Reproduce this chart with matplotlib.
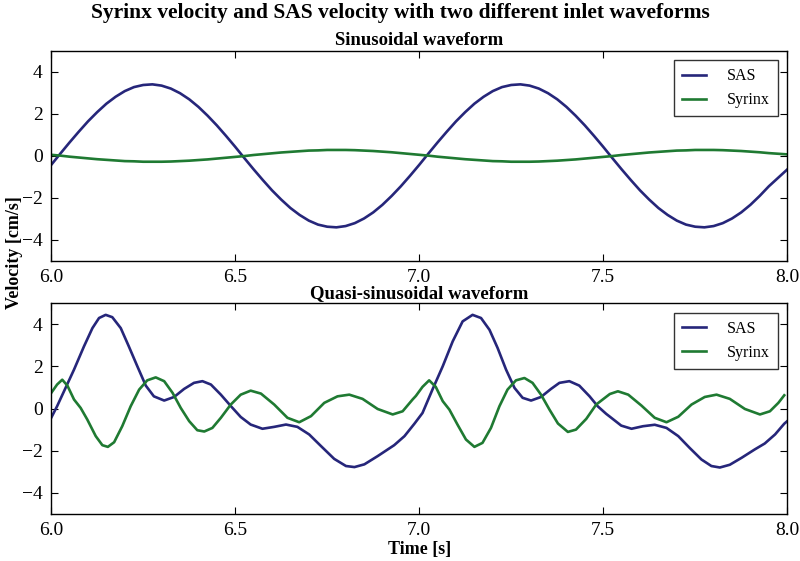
import matplotlib
matplotlib.use("Agg")
import matplotlib.pyplot as plt

# ---- Sinusoidal waveform (read every 0.025 s) ----
t_sin = [6.000 + 0.025 * i for i in range(81)]
sas_sin = [-0.43, 0.11, 0.64, 1.15, 1.64, 2.08, 2.48, 2.81, 3.08, 3.27,
           3.37, 3.40, 3.34, 3.20, 2.98, 2.69, 2.33, 1.91, 1.45, 0.95,
           0.43, -0.11, -0.64, -1.15, -1.64, -2.08, -2.48, -2.81, -3.08, -3.27,
           -3.37, -3.40, -3.34, -3.20, -2.98, -2.69, -2.33, -1.91, -1.45, -0.95,
           -0.43, 0.11, 0.64, 1.15, 1.64, 2.08, 2.48, 2.81, 3.08, 3.27,
           3.37, 3.40, 3.34, 3.20, 2.98, 2.69, 2.33, 1.91, 1.45, 0.95,
           0.43, -0.11, -0.64, -1.15, -1.64, -2.08, -2.48, -2.81, -3.08, -3.27,
           -3.37, -3.40, -3.34, -3.20, -2.98, -2.69, -2.33, -1.91, -1.45, -1.05,
           -0.65]
syr_sin = [0.05, 0.01, -0.04, -0.08, -0.12, -0.16, -0.19, -0.22, -0.25, -0.26,
           -0.28, -0.28, -0.28, -0.27, -0.25, -0.23, -0.20, -0.17, -0.13, -0.09,
           -0.05, -0.01, 0.04, 0.08, 0.12, 0.16, 0.19, 0.22, 0.25, 0.26,
           0.28, 0.28, 0.28, 0.27, 0.25, 0.23, 0.20, 0.17, 0.13, 0.09,
           0.05, 0.01, -0.04, -0.08, -0.12, -0.16, -0.19, -0.22, -0.25, -0.26,
           -0.28, -0.28, -0.28, -0.27, -0.25, -0.23, -0.20, -0.17, -0.13, -0.09,
           -0.05, -0.01, 0.04, 0.08, 0.12, 0.16, 0.19, 0.22, 0.25, 0.26,
           0.28, 0.28, 0.28, 0.27, 0.25, 0.23, 0.20, 0.17, 0.13, 0.10,
           0.07]

# ---- Quasi-sinusoidal waveform ----
t_sas_q = [6.000, 6.016, 6.039, 6.062, 6.089, 6.112, 6.130, 6.148, 6.166, 6.189,
           6.211, 6.234, 6.257, 6.279, 6.307, 6.334, 6.361, 6.388, 6.411, 6.434,
           6.461, 6.488, 6.515, 6.542, 6.574, 6.606, 6.638, 6.669, 6.701, 6.733,
           6.769, 6.801, 6.824, 6.851, 6.887, 6.932, 6.960, 6.987, 7.009, 7.036,
           7.064, 7.091, 7.118, 7.145, 7.168, 7.191, 7.213, 7.236, 7.259, 7.281,
           7.304, 7.331, 7.358, 7.381, 7.408, 7.435, 7.463, 7.485, 7.508, 7.522,
           7.549, 7.577, 7.608, 7.640, 7.672, 7.704, 7.735, 7.767, 7.794, 7.817,
           7.844, 7.876, 7.912, 7.939, 7.967, 7.992, 8.000]
sas_q = [-0.44, 0.11, 0.98, 1.85, 2.95, 3.82, 4.30, 4.45, 4.34, 3.82,
         2.95, 2.01, 1.09, 0.58, 0.38, 0.55, 0.93, 1.22, 1.30, 1.14,
         0.66, 0.12, -0.40, -0.76, -0.96, -0.87, -0.76, -0.87, -1.23, -1.78,
         -2.39, -2.73, -2.78, -2.65, -2.26, -1.74, -1.31, -0.72, -0.21, 0.90,
         2.01, 3.19, 4.14, 4.45, 4.30, 3.74, 2.88, 1.85, 0.98, 0.51,
         0.38, 0.55, 0.93, 1.22, 1.30, 1.09, 0.58, 0.11, -0.25, -0.44,
         -0.81, -0.96, -0.84, -0.77, -0.92, -1.31, -1.87, -2.42, -2.73, -2.80,
         -2.67, -2.34, -1.94, -1.66, -1.23, -0.72, -0.60]

t_syr_q = [6.000, 6.016, 6.030, 6.044, 6.062, 6.080, 6.098, 6.121, 6.139, 6.154,
           6.171, 6.193, 6.216, 6.239, 6.261, 6.284, 6.307, 6.330, 6.352, 6.375,
           6.397, 6.416, 6.438, 6.461, 6.488, 6.515, 6.542, 6.570, 6.606, 6.642,
           6.674, 6.706, 6.742, 6.778, 6.810, 6.846, 6.887, 6.928, 6.955, 6.982,
           6.991, 7.009, 7.027, 7.045, 7.064, 7.082, 7.104, 7.127, 7.150, 7.172,
           7.195, 7.218, 7.240, 7.263, 7.286, 7.308, 7.331, 7.354, 7.377, 7.404,
           7.426, 7.454, 7.481, 7.495, 7.518, 7.540, 7.568, 7.604, 7.640, 7.672,
           7.704, 7.740, 7.776, 7.808, 7.844, 7.885, 7.926, 7.953, 7.976, 7.992]
syr_q = [0.74, 1.14, 1.37, 1.09, 0.43, 0.03, -0.52, -1.31, -1.74, -1.82,
         -1.60, -0.84, 0.11, 0.90, 1.34, 1.48, 1.30, 0.74, 0.03, -0.60,
         -1.03, -1.09, -0.92, -0.44, 0.19, 0.66, 0.85, 0.71, 0.19, -0.44,
         -0.65, -0.36, 0.27, 0.58, 0.66, 0.46, -0.02, -0.28, -0.13, 0.43,
         0.60, 1.03, 1.34, 1.03, 0.35, -0.05, -0.76, -1.47, -1.82, -1.63,
         -0.92, 0.11, 0.90, 1.34, 1.45, 1.22, 0.66, -0.05, -0.71, -1.11,
         -1.00, -0.49, 0.19, 0.38, 0.69, 0.82, 0.66, 0.14, -0.44, -0.65,
         -0.39, 0.19, 0.55, 0.66, 0.46, -0.02, -0.28, -0.13, 0.27, 0.63]

x_ticks = [6.0, 6.5, 7.0, 7.5, 8.0]
y_ticks = [-4, -2, 0, 2, 4]

plt.rcParams['font.family'] = ['Liberation Serif', 'DejaVu Serif']

SAS_C = '#26267a'
SYR_C = '#1f7a32'

fig = plt.figure(figsize=(8.0, 5.61), dpi=100)
ax1 = fig.add_axes([0.064, 0.5348, 0.920, 0.3748])
ax2 = fig.add_axes([0.064, 0.0841, 0.920, 0.3753])

panels = [
    (ax1, t_sin, sas_sin, t_sin, syr_sin, 'Sinusoidal waveform'),
    (ax2, t_sas_q, sas_q, t_syr_q, syr_q, 'Quasi-sinusoidal waveform'),
]
for ax, ta, ya, tb, yb, ttl in panels:
    ax.plot(ta, ya, color=SAS_C, lw=1.9, label='SAS', solid_joinstyle='round')
    ax.plot(tb, yb, color=SYR_C, lw=1.9, label='Syrinx', solid_joinstyle='round')
    ax.set_xlim(6.0, 8.0)
    ax.set_ylim(-5, 5)
    ax.set_xticks(x_ticks)
    ax.set_xticklabels(['%.1f' % v for v in x_ticks])
    ax.set_yticks(y_ticks)
    ax.set_yticklabels([str(v).replace('-', '\u2212') for v in y_ticks])
    ax.tick_params(direction='in', top=True, right=True, length=5,
                   labelsize=14, pad=6)
    for s in ax.spines.values():
        s.set_linewidth(1.0)
    ax.set_title(ttl, fontsize=13.5, fontweight='bold', pad=4)
    leg = ax.legend(loc='upper right', fontsize=11.5, fancybox=False,
                    framealpha=1.0, edgecolor='#333333', handlelength=1.5,
                    borderpad=0.5, labelspacing=0.5, handletextpad=1.3,
                    borderaxespad=0.6)
    leg.get_frame().set_linewidth(1.0)

ax2.set_xlabel('Time [s]', fontsize=13, fontweight='bold', labelpad=1)
fig.text(0.018, 0.55, 'Velocity [cm/s]', rotation=90, fontsize=13,
         fontweight='bold', ha='center', va='center')
fig.suptitle('Syrinx velocity and SAS velocity with two different inlet waveforms',
             fontsize=15.5, fontweight='bold', y=0.995)

fig.savefig('out.png', dpi=100)
